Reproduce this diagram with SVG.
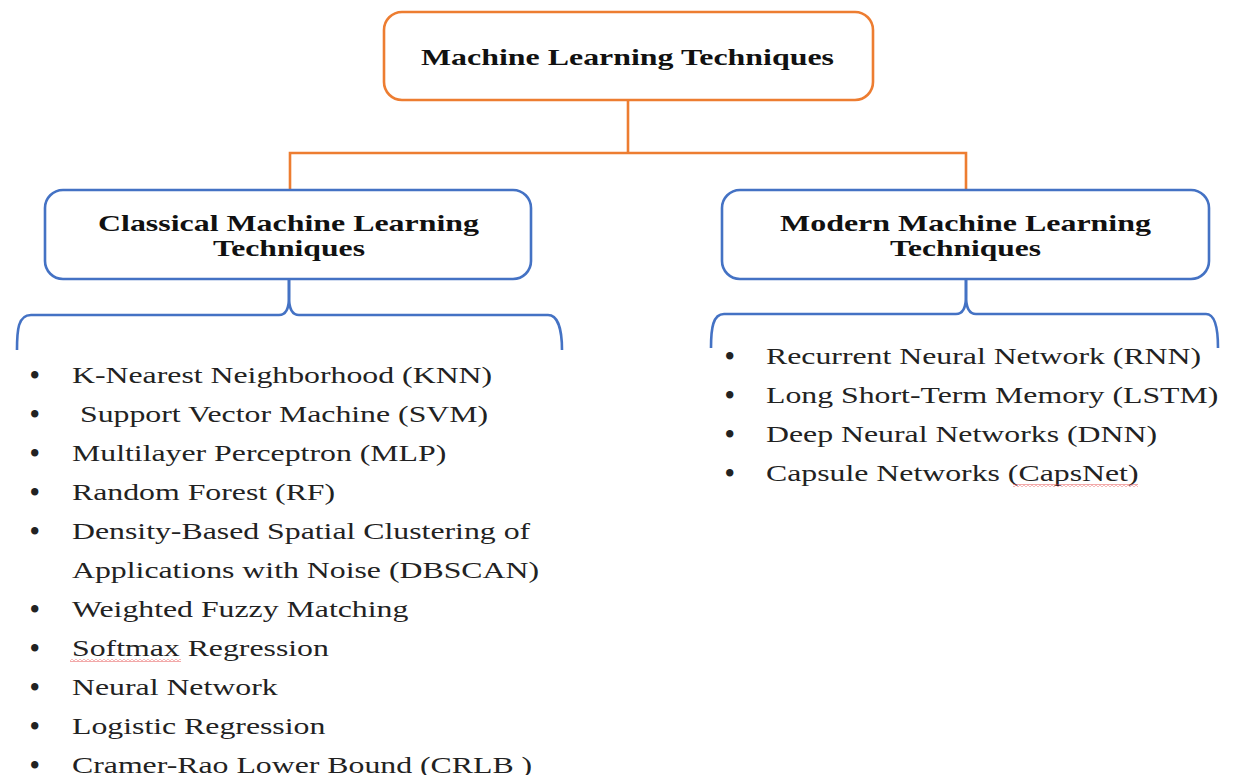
<svg xmlns="http://www.w3.org/2000/svg" width="1234" height="775" viewBox="0 0 1234 775">
  <defs>
    <style>
      .root-box { fill: #ffffff; stroke: #ED7D31; stroke-width: 2.6; }
      .branch-box { fill: #ffffff; stroke: #4472C4; stroke-width: 2.6; }
      .title { font-family: "Liberation Serif", "Times New Roman", serif; font-weight: bold; font-size: 23px; fill: #111111; }
      .item { font-family: "Liberation Serif", "Times New Roman", serif; font-size: 24px; fill: #222222; }
      .bullet { font-family: "Liberation Serif", "Times New Roman", serif; font-size: 27px; font-weight: bold; fill: #222222; }
      .link-root { fill: none; stroke: #ED7D31; stroke-width: 2.6; }
      .brace { fill: none; stroke: #4472C4; stroke-width: 2.6; stroke-linejoin: round; }
      .spell { fill: url(#squiggle); }
    </style>
    <!-- wavy red underline used by spell-check marks -->
    <pattern id="squiggle" x="0" y="0" width="4" height="3" patternUnits="userSpaceOnUse">
      <path d="M0,2.4 L2,0.6 L4,2.4" fill="none" stroke="#E23B3B" stroke-width="0.8"/>
    </pattern>
  </defs>

  <rect width="1234" height="775" fill="#ffffff"/>

  <!-- connectors -->
  <g id="connectors">
    <path class="link-root" d="M628,100 V153"/>
    <path class="link-root" d="M290,190 V153 H966 V190"/>
    <!-- brace under the classical box -->
    <path class="brace" d="M17,350 C17,330 18,315 31,315 L279,315 C286,315 289,309 289,297 L289,279"/>
    <path class="brace" d="M289,279 L289,297 C289,309 292,315 299,315 L548,315 C558,315 562,330 562,350"/>
    <!-- brace under the modern box -->
    <path class="brace" d="M711,348 C711,328 713,314 724,314 L956,314 C963,314 966,308 966,296 L966,279"/>
    <path class="brace" d="M966,279 L966,296 C966,308 969,314 976,314 L1206,314 C1215,314 1218,328 1218,348"/>
  </g>

  <!-- root node -->
  <g id="node-root">
    <rect class="root-box" x="384" y="12" width="489" height="88" rx="18"/>
    <text class="title" x="627.5" y="65" text-anchor="middle" textLength="413" lengthAdjust="spacingAndGlyphs">Machine Learning Techniques</text>
  </g>

  <!-- classical branch -->
  <g id="node-classical">
    <rect class="branch-box" x="45" y="190" width="486" height="89" rx="18"/>
    <text class="title" x="288.5" y="231" text-anchor="middle" textLength="381" lengthAdjust="spacingAndGlyphs">Classical Machine Learning</text>
    <text class="title" x="289" y="256" text-anchor="middle" textLength="152" lengthAdjust="spacingAndGlyphs">Techniques</text>
  </g>

  <!-- modern branch -->
  <g id="node-modern">
    <rect class="branch-box" x="722" y="190" width="487" height="89" rx="18"/>
    <text class="title" x="965.5" y="231" text-anchor="middle" textLength="371" lengthAdjust="spacingAndGlyphs">Modern Machine Learning</text>
    <text class="title" x="965.5" y="256" text-anchor="middle" textLength="151" lengthAdjust="spacingAndGlyphs">Techniques</text>
  </g>

  <!-- classical technique list -->
  <g id="list-classical">
    <text class="bullet" x="30" y="384">•</text>
    <text class="item" transform="translate(72,383) scale(1.325,1)">K-Nearest Neighborhood (KNN)</text>
    <text class="bullet" x="30" y="423">•</text>
    <text class="item" transform="translate(80,422) scale(1.325,1)">Support Vector Machine (SVM)</text>
    <text class="bullet" x="30" y="462">•</text>
    <text class="item" transform="translate(72,461) scale(1.325,1)">Multilayer Perceptron (MLP)</text>
    <text class="bullet" x="30" y="501">•</text>
    <text class="item" transform="translate(72,500) scale(1.325,1)">Random Forest (RF)</text>
    <text class="bullet" x="30" y="540">•</text>
    <text class="item" transform="translate(72,539) scale(1.325,1)">Density-Based Spatial Clustering of</text>
    <text class="item" transform="translate(72,578) scale(1.325,1)">Applications with Noise (DBSCAN)</text>
    <text class="bullet" x="30" y="618">•</text>
    <text class="item" transform="translate(72,617) scale(1.325,1)">Weighted Fuzzy Matching</text>
    <text class="bullet" x="30" y="657">•</text>
    <text class="item" transform="translate(72,656) scale(1.325,1)">Softmax Regression</text>
    <rect class="spell" x="70" y="659" width="111" height="3"/>
    <text class="bullet" x="30" y="696">•</text>
    <text class="item" transform="translate(72,695) scale(1.325,1)">Neural Network</text>
    <text class="bullet" x="30" y="735">•</text>
    <text class="item" transform="translate(72,734) scale(1.325,1)">Logistic Regression</text>
    <text class="bullet" x="30" y="774">•</text>
    <text class="item" transform="translate(72,773) scale(1.325,1)">Cramer-Rao Lower Bound (CRLB )</text>
  </g>

  <!-- modern technique list -->
  <g id="list-modern">
    <text class="bullet" x="725" y="365">•</text>
    <text class="item" transform="translate(766,364) scale(1.325,1)">Recurrent Neural Network (RNN)</text>
    <text class="bullet" x="725" y="404">•</text>
    <text class="item" transform="translate(766,403) scale(1.325,1)">Long Short-Term Memory (LSTM)</text>
    <text class="bullet" x="725" y="443">•</text>
    <text class="item" transform="translate(766,442) scale(1.325,1)">Deep Neural Networks (DNN)</text>
    <text class="bullet" x="725" y="482">•</text>
    <text class="item" transform="translate(766,481) scale(1.325,1)">Capsule Networks (CapsNet)</text>
    <rect class="spell" x="1013" y="484" width="125" height="3"/>
  </g>
</svg>
